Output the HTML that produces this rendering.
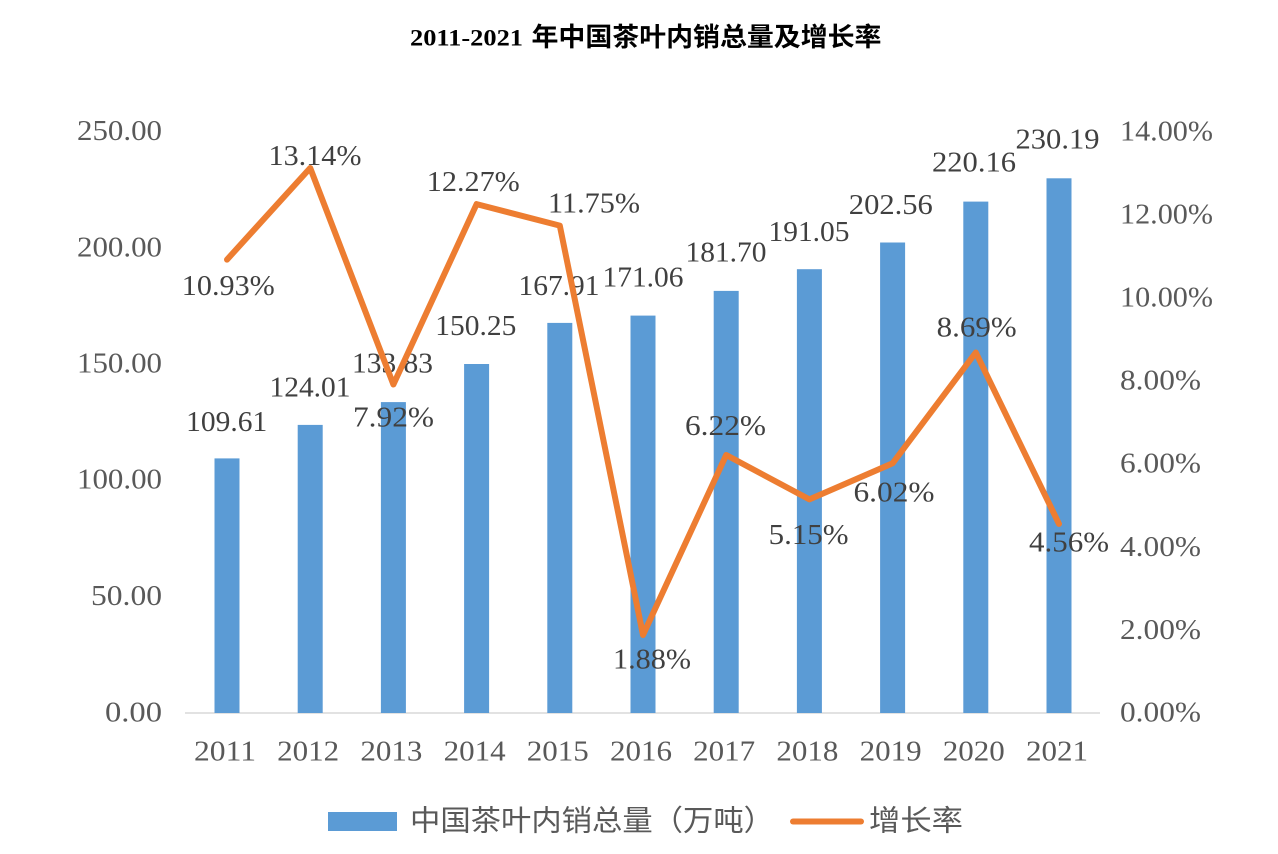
<!DOCTYPE html>
<html>
<head>
<meta charset="utf-8">
<style>
html,body{margin:0;padding:0;background:#fff;}
svg{display:block;}
.ax{font-family:"Liberation Serif","Noto Serif CJK SC",serif;font-size:29px;fill:#595959;}
.dl{font-family:"Liberation Serif","Noto Serif CJK SC",serif;font-size:29px;fill:#404040;}
.cjk{font-family:"Liberation Sans","Noto Sans CJK SC",sans-serif;font-size:29px;fill:#595959;}
</style>
</head>
<body>
<svg width="1278" height="854" viewBox="0 0 1278 854" xmlns="http://www.w3.org/2000/svg">
<rect width="1278" height="854" fill="#fff"/>
<!-- title -->
<text x="410" y="45.7" font-family="Liberation Serif, serif" font-weight="bold" font-size="23" fill="#000" textLength="113" lengthAdjust="spacingAndGlyphs">2011-2021</text>
<text x="531.5" y="37" dominant-baseline="central" font-family="Liberation Sans, 'Noto Sans CJK SC', sans-serif" font-weight="bold" font-size="26" fill="#000" textLength="350" lengthAdjust="spacingAndGlyphs">年中国茶叶内销总量及增长率</text>

<!-- axis line -->
<line x1="185" y1="713" x2="1100" y2="713" stroke="#d9d9d9" stroke-width="1.5"/>

<!-- left axis labels -->
<g class="ax" text-anchor="end">
<text x="162" y="140" textLength="85" lengthAdjust="spacingAndGlyphs">250.00</text>
<text x="162" y="256.3" textLength="85" lengthAdjust="spacingAndGlyphs">200.00</text>
<text x="162" y="372.5" textLength="85" lengthAdjust="spacingAndGlyphs">150.00</text>
<text x="162" y="488.7" textLength="85" lengthAdjust="spacingAndGlyphs">100.00</text>
<text x="162" y="604.9" textLength="71" lengthAdjust="spacingAndGlyphs">50.00</text>
<text x="162" y="721.5" textLength="57" lengthAdjust="spacingAndGlyphs">0.00</text>
</g>

<!-- right axis labels -->
<g class="ax">
<text x="1120" y="140.5" textLength="93" lengthAdjust="spacingAndGlyphs">14.00%</text>
<text x="1120" y="223.5" textLength="93" lengthAdjust="spacingAndGlyphs">12.00%</text>
<text x="1120" y="306.5" textLength="93" lengthAdjust="spacingAndGlyphs">10.00%</text>
<text x="1120" y="389.5" textLength="81" lengthAdjust="spacingAndGlyphs">8.00%</text>
<text x="1120" y="472.5" textLength="81" lengthAdjust="spacingAndGlyphs">6.00%</text>
<text x="1120" y="555.8" textLength="81" lengthAdjust="spacingAndGlyphs">4.00%</text>
<text x="1120" y="638.8" textLength="81" lengthAdjust="spacingAndGlyphs">2.00%</text>
<text x="1120" y="721.7" textLength="81" lengthAdjust="spacingAndGlyphs">0.00%</text>
</g>

<!-- bars -->
<g fill="#5b9bd5">
<rect x="214.5" y="458.4" width="25" height="254.6"/>
<rect x="297.7" y="424.9" width="25" height="288.1"/>
<rect x="380.9" y="402.1" width="25" height="310.9"/>
<rect x="464.1" y="364.0" width="25" height="349.0"/>
<rect x="547.3" y="322.9" width="25" height="390.1"/>
<rect x="630.5" y="315.6" width="25" height="397.4"/>
<rect x="713.7" y="290.9" width="25" height="422.1"/>
<rect x="796.9" y="269.2" width="25" height="443.8"/>
<rect x="880.1" y="242.5" width="25" height="470.5"/>
<rect x="963.3" y="201.6" width="25" height="511.4"/>
<rect x="1046.5" y="178.3" width="25" height="534.7"/>
</g>

<!-- x labels -->
<g class="ax" text-anchor="middle">
<text x="225" y="760.7" textLength="62" lengthAdjust="spacingAndGlyphs">2011</text>
<text x="308.2" y="760.7" textLength="62" lengthAdjust="spacingAndGlyphs">2012</text>
<text x="391.4" y="760.7" textLength="62" lengthAdjust="spacingAndGlyphs">2013</text>
<text x="474.6" y="760.7" textLength="62" lengthAdjust="spacingAndGlyphs">2014</text>
<text x="557.8" y="760.7" textLength="62" lengthAdjust="spacingAndGlyphs">2015</text>
<text x="641" y="760.7" textLength="62" lengthAdjust="spacingAndGlyphs">2016</text>
<text x="724.2" y="760.7" textLength="62" lengthAdjust="spacingAndGlyphs">2017</text>
<text x="807.4" y="760.7" textLength="62" lengthAdjust="spacingAndGlyphs">2018</text>
<text x="890.6" y="760.7" textLength="62" lengthAdjust="spacingAndGlyphs">2019</text>
<text x="973.8" y="760.7" textLength="62" lengthAdjust="spacingAndGlyphs">2020</text>
<text x="1057" y="760.7" textLength="62" lengthAdjust="spacingAndGlyphs">2021</text>
</g>

<!-- bar data labels -->
<g class="dl" text-anchor="middle">
<text x="226.7" y="431" textLength="81" lengthAdjust="spacingAndGlyphs">109.61</text>
<text x="310" y="396.7" textLength="81" lengthAdjust="spacingAndGlyphs">124.01</text>
<text x="392.5" y="372.7" textLength="81" lengthAdjust="spacingAndGlyphs">133.83</text>
<text x="475.8" y="335" textLength="81" lengthAdjust="spacingAndGlyphs">150.25</text>
<text x="559" y="295" textLength="81" lengthAdjust="spacingAndGlyphs">167.91</text>
<text x="643" y="286.7" textLength="81" lengthAdjust="spacingAndGlyphs">171.06</text>
<text x="726" y="261.7" textLength="81" lengthAdjust="spacingAndGlyphs">181.70</text>
<text x="809" y="241" textLength="81" lengthAdjust="spacingAndGlyphs">191.05</text>
<text x="890.8" y="214" textLength="84" lengthAdjust="spacingAndGlyphs">202.56</text>
<text x="974" y="171.7" textLength="84" lengthAdjust="spacingAndGlyphs">220.16</text>
<text x="1057.5" y="148.3" textLength="84" lengthAdjust="spacingAndGlyphs">230.19</text>
</g>

<!-- line -->
<polyline fill="none" stroke="#ed7d31" stroke-width="6" stroke-linejoin="round" stroke-linecap="round"
 points="227,259.6 310.2,168.0 393.4,384.5 476.6,204.1 559.8,225.6 643,635.0 726.2,455.0 809.4,499.4 892.6,463.3 975.8,352.5 1059,523.9"/>

<!-- line data labels -->
<g class="dl" text-anchor="middle">
<text x="228.3" y="295" textLength="93" lengthAdjust="spacingAndGlyphs">10.93%</text>
<text x="315" y="165" textLength="93" lengthAdjust="spacingAndGlyphs">13.14%</text>
<text x="393.5" y="426.7" textLength="81" lengthAdjust="spacingAndGlyphs">7.92%</text>
<text x="473.3" y="191" textLength="93" lengthAdjust="spacingAndGlyphs">12.27%</text>
<text x="594" y="212.7" textLength="92" lengthAdjust="spacingAndGlyphs">11.75%</text>
<text x="652" y="668.6" textLength="78" lengthAdjust="spacingAndGlyphs">1.88%</text>
<text x="725.5" y="435" textLength="81" lengthAdjust="spacingAndGlyphs">6.22%</text>
<text x="808.6" y="544" textLength="80" lengthAdjust="spacingAndGlyphs">5.15%</text>
<text x="894" y="501.6" textLength="81" lengthAdjust="spacingAndGlyphs">6.02%</text>
<text x="976.7" y="336.7" textLength="80" lengthAdjust="spacingAndGlyphs">8.69%</text>
<text x="1069" y="551.5" textLength="80" lengthAdjust="spacingAndGlyphs">4.56%</text>
</g>

<!-- legend -->
<rect x="328" y="812" width="69" height="19" fill="#5b9bd5"/>
<text class="cjk" x="410" y="821.5" dominant-baseline="central" textLength="364" lengthAdjust="spacingAndGlyphs">中国茶叶内销总量（万吨）</text>
<line x1="793" y1="821.5" x2="861" y2="821.5" stroke="#ed7d31" stroke-width="6" stroke-linecap="round"/>
<text class="cjk" x="869" y="821.5" dominant-baseline="central" textLength="94" lengthAdjust="spacingAndGlyphs">增长率</text>
</svg>
</body>
</html>
